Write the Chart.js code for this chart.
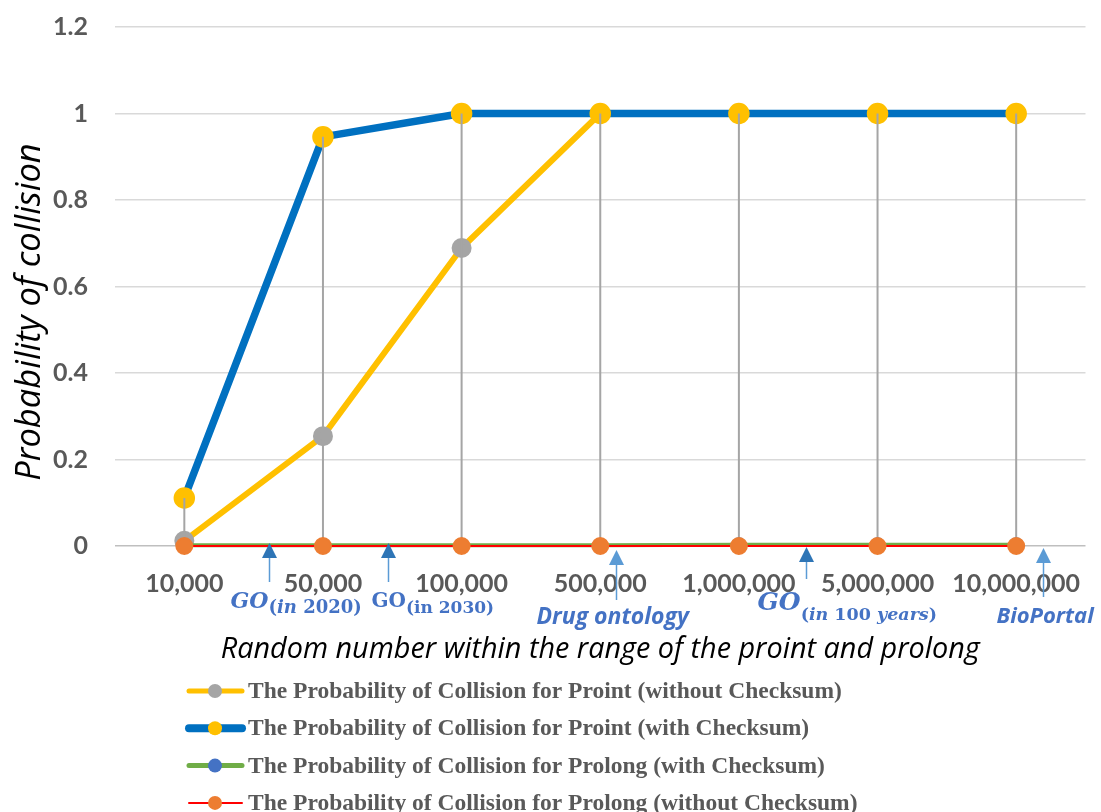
<!DOCTYPE html>
<html>
<head>
<meta charset="utf-8">
<title>Probability of collision</title>
<script src="https://cdn.jsdelivr.net/npm/chart.js"></script>
<style>
  html, body { margin: 0; padding: 0; background: #fff; }
  #wrap { position: relative; width: 1101px; height: 812px; }
</style>
</head>
<body>
<div id="wrap"><canvas id="chart" width="1101" height="812"></canvas></div>
<script>
// Chart values
const categories = ['10,000', '50,000', '100,000', '500,000', '1,000,000', '5,000,000', '10,000,000'];
const prointNoChecksum = [0.012, 0.254, 0.689, 1, 1, 1, 1];
const prointChecksum = [0.111, 0.946, 1, 1, 1, 1, 1];
const prolongChecksum = [0.002, 0.002, 0.002, 0.002, 0.003, 0.003, 0.003];
const prolongNoChecksum = [0, 0, 0, 0, 0, 0, 0];
const yTicks = [0, 0.2, 0.4, 0.6, 0.8, 1, 1.2];

const yTitle = 'Probability of collision';
const xTitle = 'Random number within the range of the proint and prolong';
const seriesLabels = [
    'The Probability of Collision for Proint (without Checksum)',
    'The Probability of Collision for Proint (with Checksum)',
    'The Probability of Collision for Prolong (with Checksum)',
    'The Probability of Collision for Prolong (without Checksum)'
];

// Notes under the x axis (at = position in category units)
const notes = [
    { at: 0.61, head: '#2e75b6', tip: 543, end: 582, dx: -39, parts: [
        { text: 'GO', font: 'italic bold 22px "DejaVu Serif"', base: 608 },
        { text: '(', font: 'bold 18px "DejaVu Serif"', base: 613 },
        { text: 'in', font: 'italic bold 18px "DejaVu Serif"', base: 613 },
        { text: ' 2020)', font: 'bold 18px "DejaVu Serif"', base: 613 }
    ]},
    { at: 1.47, head: '#2e75b6', tip: 543, end: 582, dx: -17, parts: [
        { text: 'GO', font: 'bold 20px "DejaVu Serif"', base: 607 },
        { text: '(in 2030)', font: 'bold 17px "DejaVu Serif"', base: 613 }
    ]},
    { at: 3.115, head: '#5b9bd5', tip: 550, end: 600, dx: -80, parts: [
        { text: 'Drug ontology', font: 'italic bold 23px "Open Sans"', base: 624 }
    ]},
    { at: 4.487, head: '#2e75b6', tip: 547, end: 579, dx: -49, parts: [
        { text: 'GO', font: 'italic bold 25px "DejaVu Serif"', base: 610 },
        { text: '(', font: 'bold 17.5px "DejaVu Serif"', base: 620 },
        { text: 'in', font: 'italic bold 17.5px "DejaVu Serif"', base: 620 },
        { text: ' 100 ', font: 'bold 17.5px "DejaVu Serif"', base: 620 },
        { text: 'years', font: 'italic bold 17.5px "DejaVu Serif"', base: 620 },
        { text: ')', font: 'bold 17.5px "DejaVu Serif"', base: 620 }
    ]},
    { at: 6.195, head: '#5b9bd5', tip: 548, end: 597, dx: -47, parts: [
        { text: 'BioPortal', font: 'italic bold 22px "Open Sans"', base: 623 }
    ]}
];

// Grey drop lines from the highest to the lowest value of each category
const dropLines = {
    id: 'dropLines',
    afterDatasetDraw(chart, args) {
        if (args.index !== 1) return;
        const ctx = chart.ctx;
        const x = chart.scales.x, y = chart.scales.y;
        ctx.save();
        ctx.strokeStyle = '#a5a5a5';
        ctx.lineWidth = 2;
        categories.forEach((c, i) => {
            const vals = chart.data.datasets.map(d => d.data[i]);
            const px = x.getPixelForValue(i);
            ctx.beginPath();
            ctx.moveTo(px, y.getPixelForValue(Math.max(...vals)));
            ctx.lineTo(px, y.getPixelForValue(Math.min(...vals)));
            ctx.stroke();
        });
        ctx.restore();
    }
};

// Arrows and labels below the axis, plus the y axis title
const axisNotes = {
    id: 'axisNotes',
    afterDraw(chart) {
        const ctx = chart.ctx;
        const x = chart.scales.x;
        ctx.save();
        notes.forEach(n => {
            const px = Math.round(x.getPixelForValue(n.at)) + 0.5;
            ctx.strokeStyle = '#5b9bd5';
            ctx.lineWidth = 1.5;
            ctx.beginPath();
            ctx.moveTo(px, n.tip + 10);
            ctx.lineTo(px, n.end);
            ctx.stroke();
            ctx.fillStyle = n.head;
            ctx.beginPath();
            ctx.moveTo(px, n.tip);
            ctx.lineTo(px + 7.5, n.tip + 15);
            ctx.lineTo(px - 7.5, n.tip + 15);
            ctx.closePath();
            ctx.fill();

            let cx = px + n.dx;
            ctx.fillStyle = '#4472c4';
            ctx.textAlign = 'left';
            ctx.textBaseline = 'alphabetic';
            n.parts.forEach(p => {
                ctx.font = p.font;
                ctx.fillText(p.text, cx, p.base);
                cx += ctx.measureText(p.text).width;
            });
        });

        // y title sits a little below the middle of the plot, as in the original
        ctx.translate(30, 312);
        ctx.rotate(-Math.PI / 2);
        ctx.fillStyle = '#000';
        ctx.font = 'italic 34.5px "Open Sans"';
        ctx.textAlign = 'center';
        ctx.textBaseline = 'middle';
        ctx.fillText(yTitle, 0, 0);
        ctx.restore();
    }
};

// Legend drawn as one column under the axis title
const columnLegend = {
    id: 'columnLegend',
    afterDraw(chart) {
        const ctx = chart.ctx;
        ctx.save();
        chart.data.datasets.forEach((d, i) => {
            const cy = 691 + i * 37.3;
            ctx.strokeStyle = d.borderColor;
            ctx.lineWidth = d.legendLine;
            ctx.lineCap = 'round';
            ctx.beginPath();
            ctx.moveTo(189, cy);
            ctx.lineTo(242, cy);
            ctx.stroke();
            ctx.fillStyle = d.pointBackgroundColor;
            ctx.beginPath();
            ctx.arc(215, cy, 7, 0, Math.PI * 2);
            ctx.fill();
            ctx.fillStyle = '#595959';
            ctx.font = 'bold 23.5px "Liberation Serif"';
            ctx.textBaseline = 'middle';
            ctx.fillText(d.label, 248, cy + 1);
        });
        ctx.restore();
    }
};

new Chart(document.getElementById('chart'), {
    type: 'line',
    data: {
        labels: categories,
        datasets: [{
            label: seriesLabels[0],
            data: prointNoChecksum,
            borderColor: '#ffc000',
            borderWidth: 6,
            legendLine: 5,
            pointBackgroundColor: '#a5a5a5',
            pointBorderColor: '#a5a5a5',
            pointRadius: 7,
            order: 4
        }, {
            label: seriesLabels[1],
            data: prointChecksum,
            borderColor: '#0070c0',
            borderWidth: 7.5,
            legendLine: 8,
            pointBackgroundColor: '#ffc000',
            pointBorderColor: '#ffc000',
            pointRadius: 7,
            order: 3
        }, {
            label: seriesLabels[2],
            data: prolongChecksum,
            borderColor: '#70ad47',
            borderWidth: 4,
            legendLine: 5,
            pointBackgroundColor: '#4472c4',
            pointBorderColor: '#4472c4',
            pointRadius: 5.5,
            order: 2
        }, {
            label: seriesLabels[3],
            data: prolongNoChecksum,
            borderColor: '#ff0000',
            borderWidth: 2,
            legendLine: 2,
            pointBackgroundColor: '#ed7d31',
            pointBorderColor: '#ed7d31',
            pointRadius: 8,
            order: 1
        }]
    },
    options: {
        responsive: false,
        animation: false,
        layout: { padding: { top: 27, right: 12, bottom: 137, left: 0 } },
        datasets: { line: { clip: false } },
        elements: {
            line: { tension: 0, borderJoinStyle: 'round', borderCapStyle: 'round' },
            point: { borderWidth: 0, hoverRadius: 8 }
        },
        plugins: {
            legend: { display: false },
            tooltip: { enabled: false }
        },
        scales: {
            x: {
                offset: true,
                grid: { display: false },
                border: { display: false },
                ticks: {
                    color: '#595959',
                    font: { family: 'Lato', weight: 'bold', size: 25 },
                    padding: 15,
                    maxRotation: 0,
                    autoSkip: false
                },
                title: {
                    display: true,
                    text: xTitle,
                    color: '#000',
                    font: { family: 'Open Sans', style: 'italic', size: 28.8 },
                    padding: { top: 8, bottom: 8 }
                },
                afterFit(scale) { scale.height = 129; }
            },
            y: {
                min: 0,
                max: 1.2,
                afterBuildTicks(scale) { scale.ticks = yTicks.map(v => ({ value: v })); },
                grid: {
                    color: ctx => ctx.tick && ctx.tick.value === 0 ? '#bfbfbf' : '#d9d9d9',
                    lineWidth: 1.5,
                    drawTicks: false
                },
                border: { display: false },
                ticks: {
                    color: '#595959',
                    font: { family: 'Lato', weight: 'bold', size: 25 },
                    padding: 27,
                    callback: v => String(v)
                },
                afterFit(scale) {
                    scale.width = 115;
                    scale.paddingTop = 0;
                    scale.paddingBottom = 0;
                }
            }
        }
    },
    plugins: [dropLines, axisNotes, columnLegend]
});
</script>
</body>
</html>
